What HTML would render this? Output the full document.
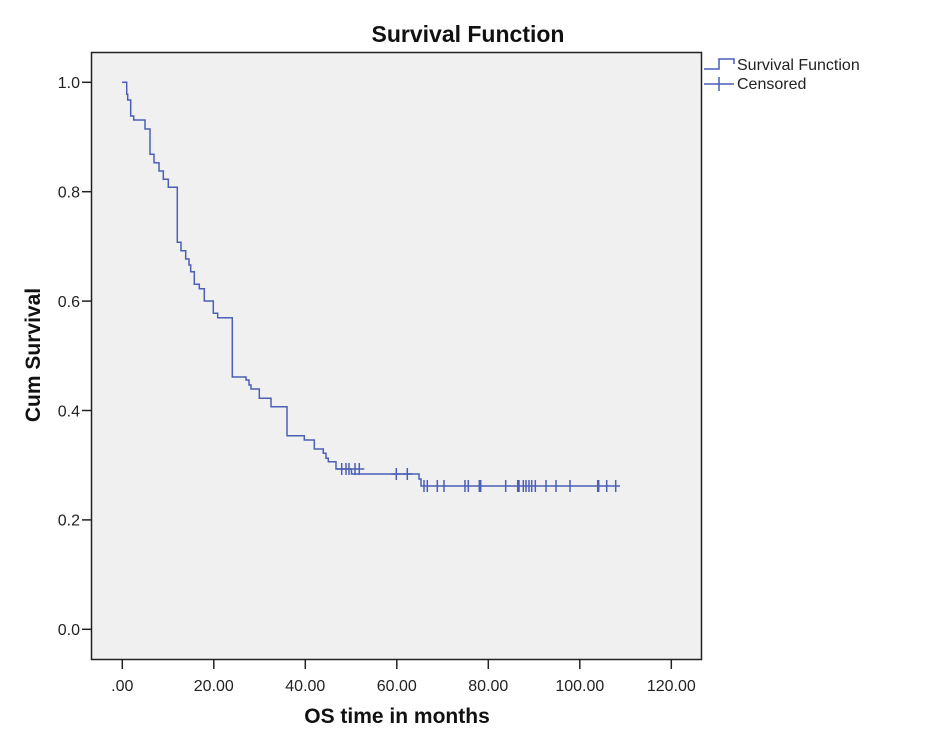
<!DOCTYPE html>
<html><head><meta charset="utf-8"><style>
html,body{margin:0;padding:0;background:#fff;}
svg{display:block;font-family:"Liberation Sans",Arial,sans-serif;}
</style></head><body>
<svg width="936" height="750" viewBox="0 0 936 750" xmlns="http://www.w3.org/2000/svg">
<rect x="0" y="0" width="936" height="750" fill="#fff"/>
<rect x="91.5" y="52.5" width="610" height="607" fill="#f0f0f0" stroke="#222" stroke-width="1.5"/>
<text x="468" y="42" font-size="23" font-weight="bold" text-anchor="middle" fill="#111">Survival Function</text>
<g stroke="#222" stroke-width="1.5">
<line x1="82" y1="82.3" x2="91" y2="82.3"/>
<line x1="82" y1="191.7" x2="91" y2="191.7"/>
<line x1="82" y1="301.1" x2="91" y2="301.1"/>
<line x1="82" y1="410.5" x2="91" y2="410.5"/>
<line x1="82" y1="519.9" x2="91" y2="519.9"/>
<line x1="82" y1="629.3" x2="91" y2="629.3"/>
<line x1="122.3" y1="660" x2="122.3" y2="669"/>
<line x1="213.8" y1="660" x2="213.8" y2="669"/>
<line x1="305.3" y1="660" x2="305.3" y2="669"/>
<line x1="396.8" y1="660" x2="396.8" y2="669"/>
<line x1="488.3" y1="660" x2="488.3" y2="669"/>
<line x1="579.8" y1="660" x2="579.8" y2="669"/>
<line x1="671.3" y1="660" x2="671.3" y2="669"/>
</g>
<g font-size="16" fill="#222" text-anchor="end">
<text x="80" y="88">1.0</text>
<text x="80" y="197.5">0.8</text>
<text x="80" y="307">0.6</text>
<text x="80" y="416.5">0.4</text>
<text x="80" y="525.5">0.2</text>
<text x="80" y="635">0.0</text>
</g>
<g font-size="16" fill="#222" text-anchor="middle">
<text x="122.3" y="691">.00</text>
<text x="213.8" y="691">20.00</text>
<text x="305.3" y="691">40.00</text>
<text x="396.8" y="691">60.00</text>
<text x="488.3" y="691">80.00</text>
<text x="579.8" y="691">100.00</text>
<text x="671.3" y="691">120.00</text>
</g>
<text x="397" y="723" font-size="21" font-weight="bold" text-anchor="middle" fill="#111">OS time in months</text>
<text transform="translate(40,355) rotate(-90)" font-size="21" font-weight="bold" text-anchor="middle" fill="#111">Cum Survival</text>
<path fill="none" stroke="#4a5fb5" stroke-width="1.5" d="M122,82.3 H126.7 V94.3 H127.7 V100 H130.7 V116 H133.7 V120 H145 V129 H150 V154.3 H154 V162.7 H159 V171 H163.3 V179.3 H168.3 V187.3 H177.3 V242.3 H181 V250.7 H185.7 V259 H189 V265 H190.7 V271.7 H194.3 V284.3 H199.3 V288.7 H204.3 V301 H213.3 V313.3 H217.7 V317.7 H232.3 V377 H246 V380 H249 V385 H251 V389 H259.3 V398.3 H271 V406.7 H287 V435.7 H304.3 V440 H314.3 V449 H323.3 V453.3 H326 V458.3 H328.3 V461.7 H336 V469 H351.5 V474 H419 V479 H421 V486 H620"/>
<g stroke="#4a5fb5" stroke-width="1.5">
<path d="M341.7,463v12M336.7,469h10 M346,463v12M341,469h10 M349,463v12M344,469h10 M355,463v12M350,469h10 M359.3,463v12M354.3,469h10
M396.3,468v12M391.3,474h10 M407.3,468v12M402.3,474h10"/>
<path d="M424,480v12 M427.3,480v12 M437.3,480v12 M444,480v12 M465,480v12 M468.3,480v12 M479.3,480v12 M480.7,480v12 M505.7,480v12 M517.7,480v12 M519,480v12 M523.3,480v12 M526,480v12 M529,480v12 M531.7,480v12 M535.3,480v12 M546,480v12 M556,480v12 M570,480v12 M597.7,480v12 M598.7,480v12 M606.7,480v12 M615.7,480v12"/>
</g>
<path fill="none" stroke="#4a5fb5" stroke-width="1.5" d="M704,69 H719 V59 H734 V64"/>
<g stroke="#4a5fb5" stroke-width="1.5"><line x1="704" y1="84" x2="734" y2="84"/><line x1="719" y1="77" x2="719" y2="91"/></g>
<text x="737" y="70" font-size="16" fill="#222">Survival Function</text>
<text x="737" y="89" font-size="16" fill="#222">Censored</text>
</svg>
</body></html>
